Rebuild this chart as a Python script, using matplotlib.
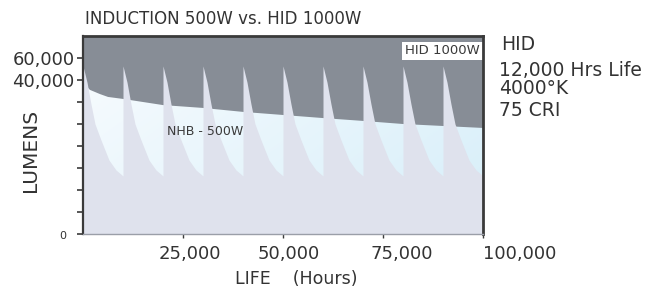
import numpy as np
import matplotlib
matplotlib.use('Agg')
import matplotlib.pyplot as plt
from matplotlib.colors import to_rgb
from matplotlib.transforms import ScaledTranslation

# Induction (NHB - 500W) lumen curve, y in axis tick units
ind_hours = [0, 500, 1750, 4250, 6250, 10000, 20000, 30000, 40000,
             50000, 60000, 70000, 80000, 90000, 100000]
ind_level = [7.1, 6.77, 6.55, 6.36, 6.23, 6.14, 5.86, 5.73, 5.55,
             5.41, 5.27, 5.14, 5.0, 4.91, 4.82]

# HID 1000W relamp cycle: one lamp profile, repeated at each relamp
relamp_hours = [0, 10000, 20000, 30000, 40000, 50000, 60000, 70000, 80000, 90000]
cycle_hours = [0, 1000, 2000, 3000, 4500, 6500, 8250, 10000]
cycle_level = [7.64, 6.9, 5.9, 5.0, 4.27, 3.36, 2.91, 2.64]

ytick_labels = ['0', '', '', '', '', '', '', '40,000', '60,000']
xtick_vals = [25000, 50000, 75000, 100000]
xtick_labels = ['25,000', '50,000', '75,000', '100,000']

hid_notes = ['HID', '12,000 Hrs Life', '4000°K', '75 CRI']

text_col = '#333333'
gray = '#878d96'
lavender = '#dfe2ed'

fig = plt.figure(figsize=(6.62, 2.91), dpi=100)
ax = fig.add_axes([83/662, 1 - 234/291, 400/662, 198/291])
ax.set_facecolor(gray)
ax.set_xlim(0, 100000)
ax.set_ylim(0, 9)

# induction area with a white -> light blue gradient
poly = ax.fill_between(ind_hours, 0, ind_level, color='none', lw=0)
nx, ny = 200, 100
gx = np.linspace(0, 1, nx)[None, :]
gy = np.linspace(1, 0, ny)[:, None]
t = np.clip(0.65 * gx + 0.45 * (1 - gy) - 0.1, 0, 1)
c0 = np.array(to_rgb('#f6fbfe'))
c1 = np.array(to_rgb('#d6eef9'))
img = c0[None, None, :] * (1 - t[..., None]) + c1[None, None, :] * t[..., None]
im = ax.imshow(img, extent=[0, 100000, 0, 9], aspect='auto', origin='upper', zorder=1)
im.set_clip_path(poly.get_paths()[0], transform=ax.transData)

# HID sawtooth
saw_x, saw_y = [], []
for r in relamp_hours:
    saw_x += [r + h for h in cycle_hours]
    saw_y += cycle_level
ax.fill_between(saw_x, 0, saw_y, color=lavender, lw=0, zorder=2)

# spines / ticks
for s in ['left', 'top', 'right']:
    ax.spines[s].set_color('#3a3a3a')
ax.spines['left'].set_linewidth(1.6)
ax.spines['top'].set_linewidth(2)
ax.spines['right'].set_linewidth(2)
ax.spines['bottom'].set_color('#9a9ea8')
ax.spines['bottom'].set_linewidth(1)
for s in ax.spines.values():
    s.set_zorder(5)

ax.set_yticks(range(len(ytick_labels)))
ax.set_yticklabels(ytick_labels, fontsize=13, color=text_col)
ax.tick_params(axis='y', length=4, width=1.2, color='#3a3a3a', pad=2)
ylab = ax.get_yticklabels()
ylab[0].set_fontsize(8)
ylab[0].set_transform(ylab[0].get_transform() + ScaledTranslation(-0.08, -0.01, fig.dpi_scale_trans))

ax.set_xticks(xtick_vals)
ax.set_xticklabels(xtick_labels, fontsize=13, color=text_col)
ax.tick_params(axis='x', length=3, width=1, color='#3a3a3a', pad=5)
x_shift = [0.065, 0.06, 0.19, 0.0]
for lbl, dx in zip(ax.get_xticklabels(), x_shift):
    lbl.set_transform(lbl.get_transform() + ScaledTranslation(dx, 0, fig.dpi_scale_trans))
ax.get_xticklabels()[-1].set_horizontalalignment('left')

# labels
fig.text(85/662, 1 - 19/291, 'INDUCTION 500W vs. HID 1000W', fontsize=12,
         color=text_col, ha='left', va='center')
fig.text(30/662, 1 - 150/291, 'LUMENS', fontsize=14.5, color=text_col,
         rotation=90, ha='center', va='center')
fig.text(296/662, 1 - 279/291, 'LIFE    (Hours)', fontsize=12.5, color=text_col,
         ha='center', va='center')

ax.text(0.805, 0.925, 'HID 1000W', transform=ax.transAxes, fontsize=9.5,
        color='#3a3a3a', ha='left', va='center', zorder=4, clip_on=True,
        bbox=dict(facecolor='white', edgecolor='none', pad=2))
ax.text(0.21, 0.52, 'NHB - 500W', transform=ax.transAxes, fontsize=9,
        color='#3a3a3a', ha='left', va='center', zorder=4)

note_y = [45, 70, 89, 110]
for txt, yy in zip(hid_notes, note_y):
    fig.text(499/662 if txt != 'HID' else 501/662, 1 - yy/291, txt, fontsize=13.5,
             color=text_col, ha='left', va='center')

fig.savefig('out.png', dpi=100)
